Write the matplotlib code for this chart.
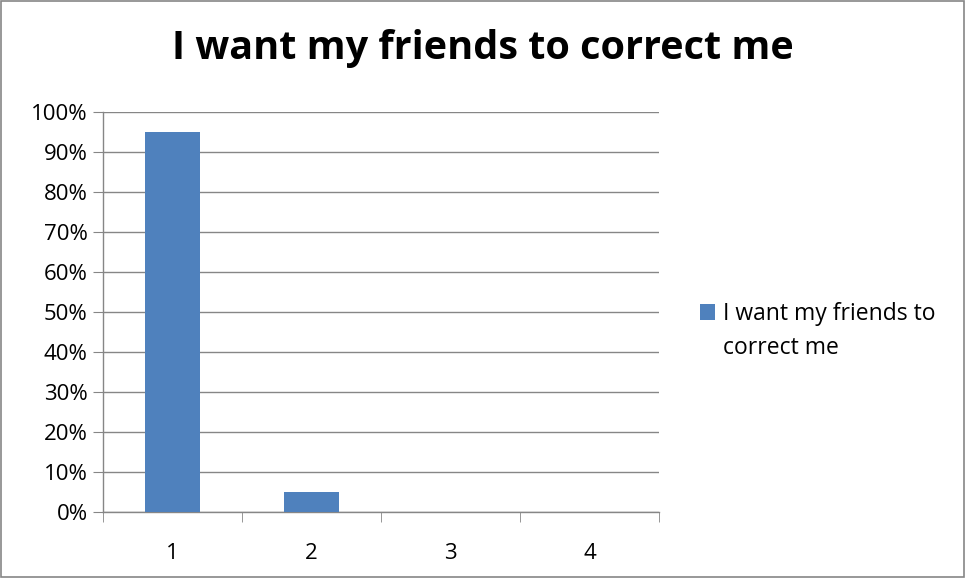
import matplotlib.pyplot as plt
from matplotlib.patches import Rectangle
from matplotlib.ticker import FuncFormatter, MultipleLocator

categories = ["1", "2", "3", "4"]
values = [0.95, 0.05, 0.0, 0.0]
series_name = "I want my friends to correct me"
title = "I want my friends to correct me"
legend_lines = ["I want my friends to", "correct me"]

plt.rcParams["font.family"] = ["Open Sans", "DejaVu Sans"]

fig = plt.figure(figsize=(9.66, 5.78), dpi=100)
ax = fig.add_axes([103 / 966, 1 - 512 / 578, 556 / 966, 400 / 578])

x = range(len(categories))
ax.bar(x, values, width=0.4, color="#4F81BD", label=legend_lines[0], zorder=3)

ax.set_xlim(-0.5, len(categories) - 0.5)
ax.set_ylim(0, 1)
ax.yaxis.set_major_locator(MultipleLocator(0.1))
ax.yaxis.set_major_formatter(FuncFormatter(lambda v, p: f"{v * 100:.0f}%"))
ax.set_xticks(list(x))
ax.set_xticklabels(categories)
ax.set_xticks([i - 0.5 for i in range(len(categories) + 1)], minor=True)

ax.grid(axis="y", color="#868686", linewidth=1, zorder=0)
for s in ["top", "right"]:
    ax.spines[s].set_visible(False)
for s in ["left", "bottom"]:
    ax.spines[s].set_color("#868686")
    ax.spines[s].set_linewidth(1)

ax.tick_params(axis="y", length=7, color="#868686", labelsize=16, pad=4)
ax.tick_params(axis="x", which="major", length=0, labelsize=16, pad=22)
ax.tick_params(axis="x", which="minor", length=7, color="#868686")

fig.text(0.5, 1 - 48 / 578, title, ha="center", va="center", fontsize=28.5, fontweight="bold")

leg = ax.legend(loc="center left", bbox_to_anchor=(700 / 966, 1 - 314 / 578),
                bbox_transform=fig.transFigure, frameon=False, fontsize=16.5,
                handlelength=0.65, handleheight=0.65, handletextpad=0.35,
                borderpad=0, borderaxespad=0)

# second line of the wrapped legend label, lined up under the first
fig.canvas.draw()
bb = leg.get_texts()[0].get_window_extent()
fig.text(bb.x0 / fig.bbox.width, 1 - 348 / 578, legend_lines[1],
         ha="left", va="center", fontsize=16.5)

fig.patches.append(Rectangle((0.001, 0.001), 0.997, 0.997, transform=fig.transFigure,
                             fill=False, edgecolor="#868686", linewidth=1.2))

fig.savefig("out.png", dpi=100)
